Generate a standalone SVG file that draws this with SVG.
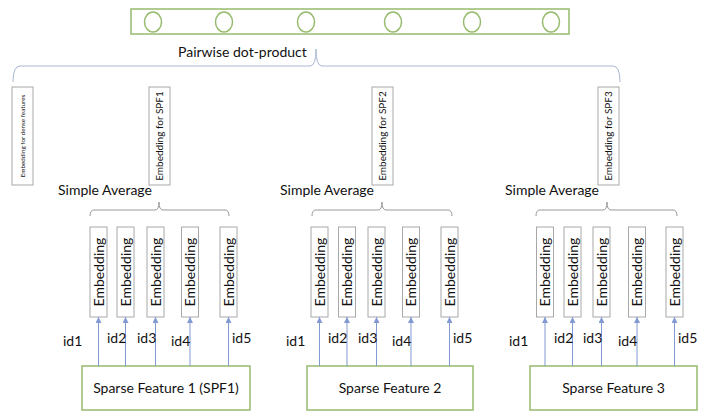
<svg xmlns="http://www.w3.org/2000/svg" width="703" height="418" viewBox="0 0 703 418">
<defs>
<style>
text{font-family:Lato,"Liberation Sans",sans-serif;fill:#111}
.g{fill:none;stroke:#97bb6e;stroke-width:1.5}
.b{fill:#fff;stroke:#a8a8a8;stroke-width:1}
.br{fill:none;stroke:#9a9a9a;stroke-width:1}
.bb{fill:none;stroke:#a9b8d1;stroke-width:1}
.ar{stroke:#8399d3;stroke-width:1;fill:none}
.t14{font-size:14px}
.sp{font-size:10px}
.dn{font-size:6.3px}
.mid{text-anchor:middle}
</style>
<marker id="ah" viewBox="0 0 6 6" refX="6" refY="3" markerWidth="6" markerHeight="6" markerUnits="userSpaceOnUse" orient="auto"><path d="M0,0 L6,3 L0,6 z" fill="#8399d3"/></marker>
</defs>
<rect width="703" height="418" fill="#fff"/>

<g id="dot-product-layer">
<rect class="g" x="131" y="9" width="438" height="25"/>
<ellipse class="g" cx="153" cy="22" rx="8.5" ry="10"/>
<ellipse class="g" cx="224" cy="22" rx="8.5" ry="10"/>
<ellipse class="g" cx="306" cy="22" rx="8.5" ry="10"/>
<ellipse class="g" cx="393" cy="22" rx="8.5" ry="10"/>
<ellipse class="g" cx="472" cy="22" rx="8.5" ry="10"/>
<ellipse class="g" cx="551" cy="22" rx="8.5" ry="10"/>
</g>
<g id="pairwise-label"><text class="t14" x="178" y="57">Pairwise dot-product</text></g>

<g id="emb-dense"><rect class="b" x="12" y="87" width="21" height="98"/><text class="dn mid" transform="translate(24.5,136) rotate(-90)">Embedding for dense features</text></g>
<g id="emb-spf1"><rect class="b" x="149" y="87" width="21" height="98"/><text class="sp mid" transform="translate(163,136) rotate(-90)">Embedding for SPF1</text></g>
<g id="emb-spf2"><rect class="b" x="372" y="87" width="21" height="98"/><text class="sp mid" transform="translate(386,136) rotate(-90)">Embedding for SPF2</text></g>
<g id="emb-spf3"><rect class="b" x="598" y="87" width="21" height="98"/><text class="sp mid" transform="translate(612,136) rotate(-90)">Embedding for SPF3</text></g>

<g id="avg1"><text class="t14" x="58" y="195">Simple Average</text></g>
<g id="avg2"><text class="t14" x="280" y="195">Simple Average</text></g>
<g id="avg3"><text class="t14" x="505" y="195">Simple Average</text></g>

<g id="g1-emb">
<rect class="b" x="90" y="227" width="17" height="90"/><text class="t14 mid" transform="translate(103.5,272) rotate(-90)">Embedding</text>
<rect class="b" x="117" y="227" width="17" height="90"/><text class="t14 mid" transform="translate(130.5,272) rotate(-90)">Embedding</text>
<rect class="b" x="147" y="227" width="17" height="90"/><text class="t14 mid" transform="translate(160.5,272) rotate(-90)">Embedding</text>
<rect class="b" x="181.5" y="227" width="17" height="90"/><text class="t14 mid" transform="translate(195,272) rotate(-90)">Embedding</text>
<rect class="b" x="220" y="227" width="17" height="90"/><text class="t14 mid" transform="translate(233.5,272) rotate(-90)">Embedding</text>
</g>
<g id="g2-emb">
<rect class="b" x="311" y="227" width="17" height="90"/><text class="t14 mid" transform="translate(324.5,272) rotate(-90)">Embedding</text>
<rect class="b" x="338.5" y="227" width="17" height="90"/><text class="t14 mid" transform="translate(352,272) rotate(-90)">Embedding</text>
<rect class="b" x="368" y="227" width="17" height="90"/><text class="t14 mid" transform="translate(381.5,272) rotate(-90)">Embedding</text>
<rect class="b" x="402.5" y="227" width="17" height="90"/><text class="t14 mid" transform="translate(416,272) rotate(-90)">Embedding</text>
<rect class="b" x="441" y="227" width="17" height="90"/><text class="t14 mid" transform="translate(454.5,272) rotate(-90)">Embedding</text>
</g>
<g id="g3-emb">
<rect class="b" x="536.5" y="227" width="17" height="90"/><text class="t14 mid" transform="translate(550,272) rotate(-90)">Embedding</text>
<rect class="b" x="564" y="227" width="17" height="90"/><text class="t14 mid" transform="translate(577.5,272) rotate(-90)">Embedding</text>
<rect class="b" x="593" y="227" width="17" height="90"/><text class="t14 mid" transform="translate(606.5,272) rotate(-90)">Embedding</text>
<rect class="b" x="628.5" y="227" width="17" height="90"/><text class="t14 mid" transform="translate(642,272) rotate(-90)">Embedding</text>
<rect class="b" x="666" y="227" width="17" height="90"/><text class="t14 mid" transform="translate(679.5,272) rotate(-90)">Embedding</text>
</g>

<g id="sf1"><rect class="g" x="82" y="366" width="168" height="44"/><text class="t14 mid" x="166" y="393">Sparse Feature 1 (SPF1)</text></g>
<g id="sf2"><rect class="g" x="307" y="366" width="166" height="44"/><text class="t14 mid" x="390" y="393">Sparse Feature 2</text></g>
<g id="sf3"><rect class="g" x="530" y="366" width="167" height="44"/><text class="t14 mid" x="613.5" y="393">Sparse Feature 3</text></g>

<g id="connectors">
<path class="bb" d="M13,82 Q13,66 20,66 H310 Q316,66 316,49 Q316,66 322,66 H613 Q620,66 620,82"/>
<path class="br" d="M90,216 Q90,210 94,210 H155 Q159,210 159,202 Q159,210 163,210 H225 Q229,210 229,216"/>
<path class="br" d="M312,216 Q312,210 316,210 H378 Q382,210 382,202 Q382,210 386,210 H448 Q452,210 452,216"/>
<path class="br" d="M536,216 Q536,210 540,210 H603 Q607,210 607,202 Q607,210 611,210 H673 Q677,210 677,216"/>
<path class="ar" marker-end="url(#ah)" d="M98.5,366 V317"/>
<path class="ar" marker-end="url(#ah)" d="M125.5,366 V317"/>
<path class="ar" marker-end="url(#ah)" d="M155.5,366 V317"/>
<path class="ar" marker-end="url(#ah)" d="M190,366 V317"/>
<path class="ar" marker-end="url(#ah)" d="M228.5,366 V317"/>
<path class="ar" marker-end="url(#ah)" d="M319.5,366 V317"/>
<path class="ar" marker-end="url(#ah)" d="M347,366 V317"/>
<path class="ar" marker-end="url(#ah)" d="M376.5,366 V317"/>
<path class="ar" marker-end="url(#ah)" d="M411,366 V317"/>
<path class="ar" marker-end="url(#ah)" d="M449.5,366 V317"/>
<path class="ar" marker-end="url(#ah)" d="M545,366 V317"/>
<path class="ar" marker-end="url(#ah)" d="M572.5,366 V317"/>
<path class="ar" marker-end="url(#ah)" d="M601.5,366 V317"/>
<path class="ar" marker-end="url(#ah)" d="M637,366 V317"/>
<path class="ar" marker-end="url(#ah)" d="M674.5,366 V317"/>
</g>

<g id="id-labels">
<text class="t14" x="63" y="346">id1</text>
<text class="t14" x="107" y="343">id2</text>
<text class="t14" x="137" y="343">id3</text>
<text class="t14" x="171" y="346">id4</text>
<text class="t14" x="232" y="343">id5</text>
<text class="t14" x="286" y="346">id1</text>
<text class="t14" x="328" y="343">id2</text>
<text class="t14" x="358" y="343">id3</text>
<text class="t14" x="392" y="346">id4</text>
<text class="t14" x="453" y="343">id5</text>
<text class="t14" x="509" y="346">id1</text>
<text class="t14" x="554" y="343">id2</text>
<text class="t14" x="583" y="343">id3</text>
<text class="t14" x="618" y="346">id4</text>
<text class="t14" x="678" y="343">id5</text>
</g>
</svg>
